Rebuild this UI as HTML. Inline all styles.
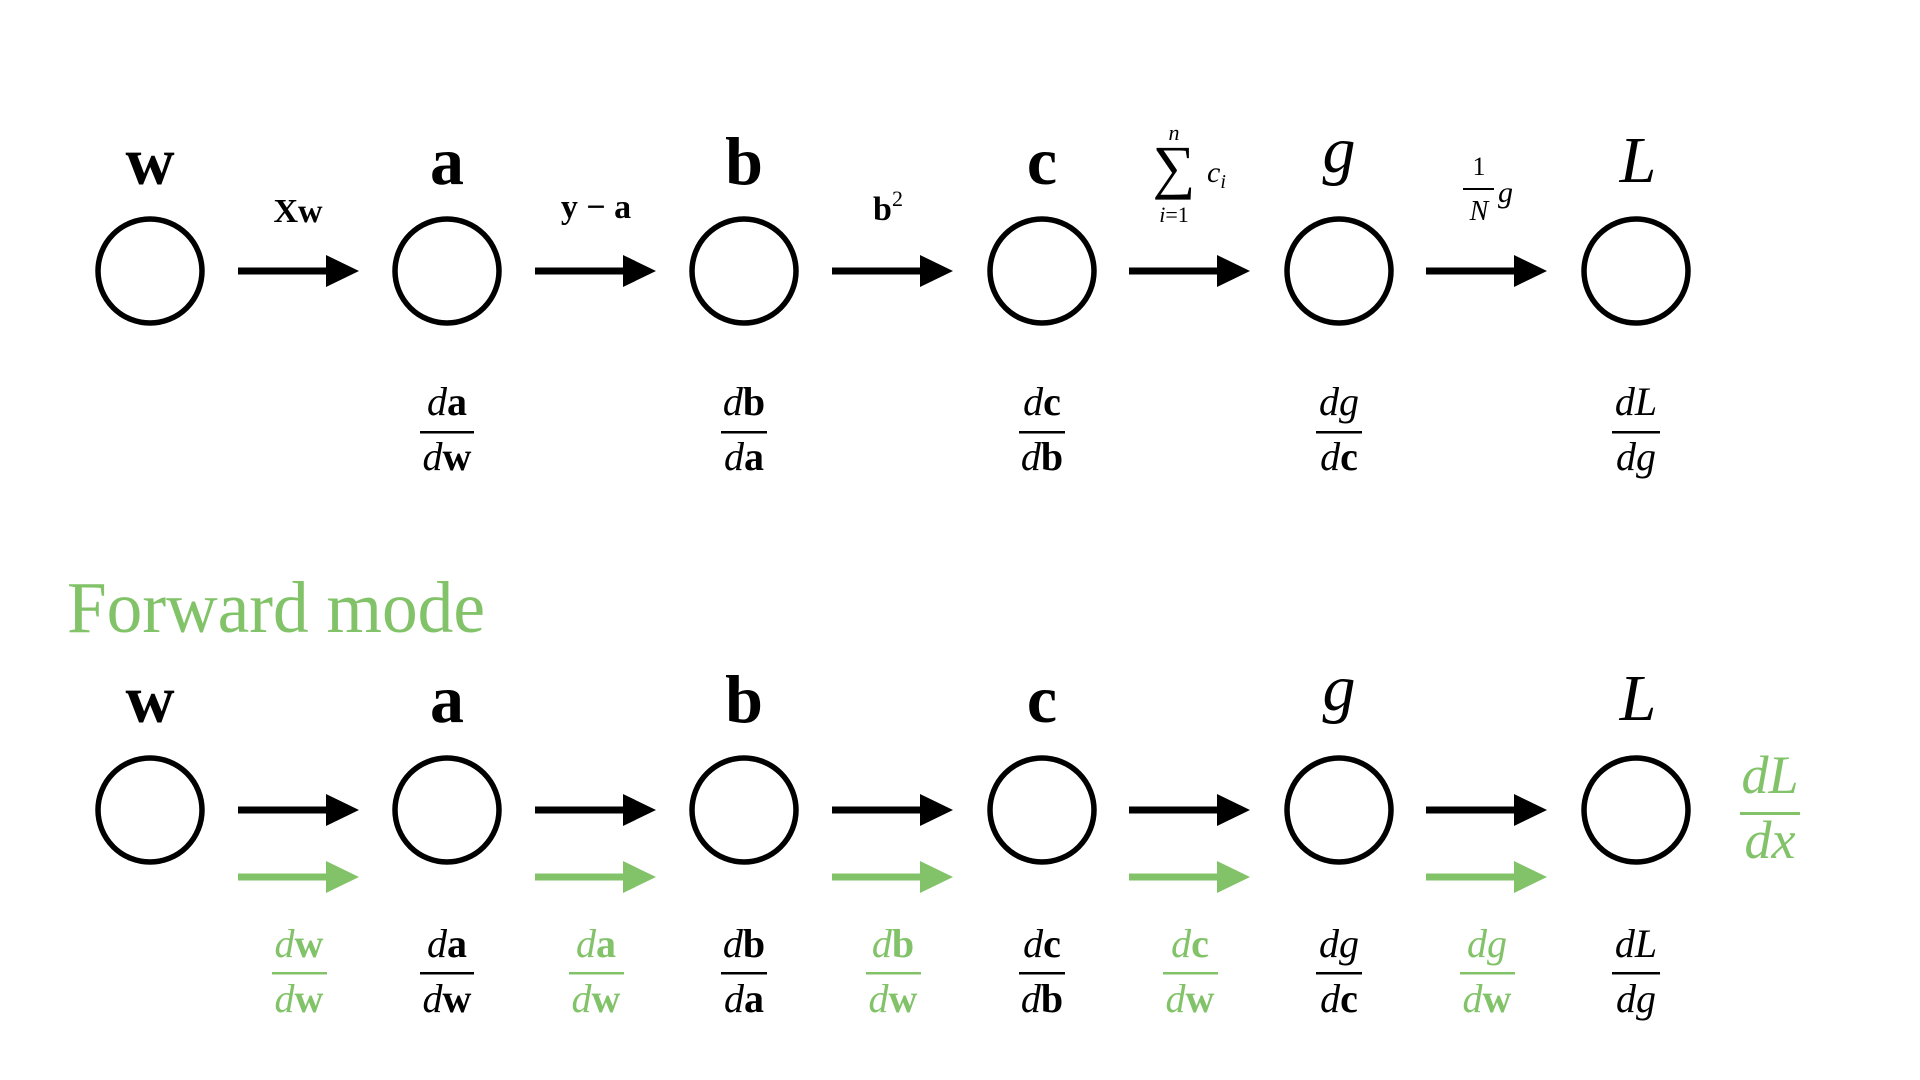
<!DOCTYPE html>
<html><head><meta charset="utf-8"><style>
html,body{margin:0;padding:0;background:#fff;width:1920px;height:1080px;overflow:hidden}
svg{display:block}
text{font-family:"Liberation Serif",serif}
.b{font-weight:bold}
.i{font-style:italic}
</style></head><body>
<svg width="1920" height="1080" viewBox="0 0 1920 1080" xmlns="http://www.w3.org/2000/svg">
<defs>
<g id="arrK"><rect x="0" y="-3.5" width="92" height="7" fill="#000"/><polygon points="88,-16 121,0 88,16" fill="#000"/></g>
<g id="arrG"><rect x="0" y="-3.5" width="92" height="7" fill="#82c369"/><polygon points="88,-16 121,0 88,16" fill="#82c369"/></g>
</defs>
<g fill="none" stroke="#000" stroke-width="5.5">
<circle cx="150" cy="271" r="52"/><circle cx="447" cy="271" r="52"/><circle cx="744" cy="271" r="52"/><circle cx="1042" cy="271" r="52"/><circle cx="1339" cy="271" r="52"/><circle cx="1636" cy="271" r="52"/>
<circle cx="150" cy="810" r="52"/><circle cx="447" cy="810" r="52"/><circle cx="744" cy="810" r="52"/><circle cx="1042" cy="810" r="52"/><circle cx="1339" cy="810" r="52"/><circle cx="1636" cy="810" r="52"/>
</g>
<use href="#arrK" x="238" y="271"/><use href="#arrK" x="535" y="271"/><use href="#arrK" x="832" y="271"/><use href="#arrK" x="1129" y="271"/><use href="#arrK" x="1426" y="271"/>
<use href="#arrK" x="238" y="810"/><use href="#arrK" x="535" y="810"/><use href="#arrK" x="832" y="810"/><use href="#arrK" x="1129" y="810"/><use href="#arrK" x="1426" y="810"/>
<use href="#arrG" x="238" y="877"/><use href="#arrG" x="535" y="877"/><use href="#arrG" x="832" y="877"/><use href="#arrG" x="1129" y="877"/><use href="#arrG" x="1426" y="877"/>

<g font-size="68" text-anchor="middle">
<text x="150" y="184" class="b">w</text><text x="447" y="184" class="b">a</text><text x="744" y="184" class="b">b</text><text x="1042" y="184" class="b">c</text><text x="1339" y="172" class="i" font-size="66">g</text><text x="1638" y="182" class="i" font-size="66">L</text>
<text x="150" y="722" class="b">w</text><text x="447" y="722" class="b">a</text><text x="744" y="722" class="b">b</text><text x="1042" y="722" class="b">c</text><text x="1339" y="710" class="i" font-size="66">g</text><text x="1638" y="720" class="i" font-size="66">L</text>
</g>
<g font-size="34" text-anchor="middle" class="b">
<text x="298" y="222">Xw</text>
<text x="596" y="218">y − a</text>
<text x="888" y="220">b<tspan font-size="22" dy="-14" font-weight="normal">2</tspan></text>
</g>
<text x="1174" y="187" font-size="60" text-anchor="middle">∑</text>
<text x="1174" y="140" font-size="22" class="i" text-anchor="middle">n</text>
<text x="1174" y="222" font-size="22" text-anchor="middle"><tspan class="i">i</tspan>=1</text>
<text x="1207" y="182" font-size="30" class="i">c<tspan font-size="20" dy="6">i</tspan></text>
<text x="1479" y="175" font-size="26" text-anchor="middle">1</text>
<rect x="1463" y="188" width="31" height="2" fill="#000"/>
<text x="1479" y="220" font-size="28" class="i" text-anchor="middle">N</text>
<text x="1498" y="202" font-size="30" class="i">g</text>

<g font-size="40" text-anchor="middle">
<text x="447" y="415"><tspan class="i">d</tspan><tspan class="b">a</tspan></text><rect x="420" y="431" width="54" height="2.5"/><text x="447" y="470"><tspan class="i">d</tspan><tspan class="b">w</tspan></text>
<text x="744" y="415"><tspan class="i">d</tspan><tspan class="b">b</tspan></text><rect x="721" y="431" width="46" height="2.5"/><text x="744" y="470"><tspan class="i">d</tspan><tspan class="b">a</tspan></text>
<text x="1042" y="415"><tspan class="i">d</tspan><tspan class="b">c</tspan></text><rect x="1019" y="431" width="46" height="2.5"/><text x="1042" y="470"><tspan class="i">d</tspan><tspan class="b">b</tspan></text>
<text x="1339" y="415" class="i">dg</text><rect x="1316" y="431" width="46" height="2.5"/><text x="1339" y="470"><tspan class="i">d</tspan><tspan class="b">c</tspan></text>
<text x="1636" y="415" class="i">dL</text><rect x="1612" y="431" width="48" height="2.5"/><text x="1636" y="470" class="i">dg</text>
<text x="447" y="957"><tspan class="i">d</tspan><tspan class="b">a</tspan></text><rect x="420" y="972" width="54" height="2.5"/><text x="447" y="1012"><tspan class="i">d</tspan><tspan class="b">w</tspan></text>
<text x="744" y="957"><tspan class="i">d</tspan><tspan class="b">b</tspan></text><rect x="721" y="972" width="46" height="2.5"/><text x="744" y="1012"><tspan class="i">d</tspan><tspan class="b">a</tspan></text>
<text x="1042" y="957"><tspan class="i">d</tspan><tspan class="b">c</tspan></text><rect x="1019" y="972" width="46" height="2.5"/><text x="1042" y="1012"><tspan class="i">d</tspan><tspan class="b">b</tspan></text>
<text x="1339" y="957" class="i">dg</text><rect x="1316" y="972" width="46" height="2.5"/><text x="1339" y="1012"><tspan class="i">d</tspan><tspan class="b">c</tspan></text>
<text x="1636" y="957" class="i">dL</text><rect x="1612" y="972" width="48" height="2.5"/><text x="1636" y="1012" class="i">dg</text>
</g>
<g font-size="40" text-anchor="middle" fill="#82c369">
<text x="299" y="957"><tspan class="i">d</tspan><tspan class="b">w</tspan></text><rect x="272" y="972" width="55" height="2.5"/><text x="299" y="1012"><tspan class="i">d</tspan><tspan class="b">w</tspan></text>
<text x="596" y="957"><tspan class="i">d</tspan><tspan class="b">a</tspan></text><rect x="569" y="972" width="55" height="2.5"/><text x="596" y="1012"><tspan class="i">d</tspan><tspan class="b">w</tspan></text>
<text x="893" y="957"><tspan class="i">d</tspan><tspan class="b">b</tspan></text><rect x="866" y="972" width="55" height="2.5"/><text x="893" y="1012"><tspan class="i">d</tspan><tspan class="b">w</tspan></text>
<text x="1190" y="957"><tspan class="i">d</tspan><tspan class="b">c</tspan></text><rect x="1163" y="972" width="55" height="2.5"/><text x="1190" y="1012"><tspan class="i">d</tspan><tspan class="b">w</tspan></text>
<text x="1487" y="957" class="i">dg</text><rect x="1460" y="972" width="55" height="2.5"/><text x="1487" y="1012"><tspan class="i">d</tspan><tspan class="b">w</tspan></text>
<text x="1770" y="793" font-size="54" class="i">dL</text><rect x="1740" y="812" width="60" height="3"/><text x="1770" y="858" font-size="54" class="i">dx</text>
</g>
<text x="67" y="632" font-size="73" fill="#82c369" textLength="418" lengthAdjust="spacingAndGlyphs">Forward mode</text>
</svg>
</body></html>
